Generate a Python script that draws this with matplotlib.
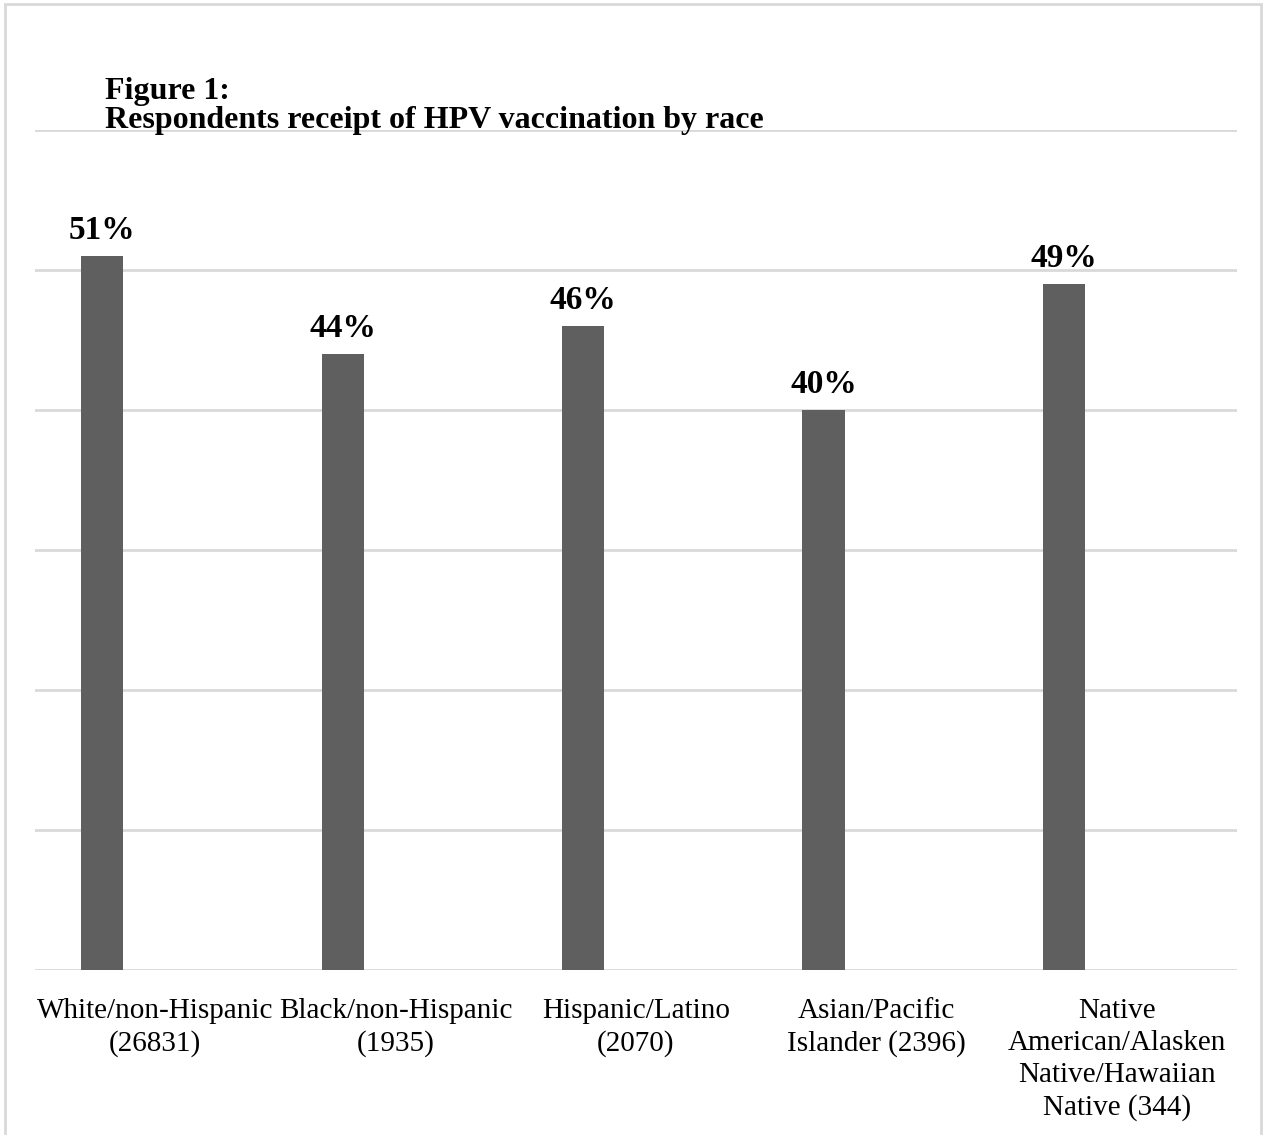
import numpy as np
import matplotlib
matplotlib.use("Agg")
import matplotlib.pyplot as plt
from matplotlib.patches import Rectangle

plt.rcParams["font.family"] = ["Liberation Serif", "DejaVu Serif"]

# ── Data ──────────────────────────────────────────────────────────────────────
categories = [
    "White/non-Hispanic\n(26831)",
    "Black/non-Hispanic\n(1935)",
    "Hispanic/Latino\n(2070)",
    "Asian/Pacific\nIslander (2396)",
    "Native\nAmerican/Alasken\nNative/Hawaiian\nNative (344)",
]
values = [51, 44, 46, 40, 49]
value_labels = ["51%", "44%", "46%", "40%", "49%"]

W, H = 1265, 1135
fig = plt.figure(figsize=(W / 100, H / 100), dpi=100)

# outer chart frame (light grey, bottom runs off the page)
fig.patches.append(Rectangle((5 / W, -0.05), 1256 / W, 1.05 - 4 / H,
                             transform=fig.transFigure, fill=False,
                             edgecolor="#d9d9d9", linewidth=2))

ax = fig.add_axes([35 / W, (H - 970) / H, 1202 / W, 840 / H])

x = np.arange(len(categories))
bars = ax.bar(x - 0.22, values, width=0.175, color="#5f5f5f", zorder=3)

for b, lab in zip(bars, value_labels):
    ax.annotate(lab, xy=(b.get_x() + b.get_width() / 2, b.get_height()),
                xytext=(0, 7), textcoords="offset points",
                ha="center", va="bottom", fontsize=24, fontweight="bold")

ax.set_xlim(-0.5, len(categories) - 0.5)
ax.set_ylim(0, 60)
ax.set_yticks(np.arange(0, 61, 10))
ax.set_yticklabels([])
ax.tick_params(axis="y", length=0)
ax.grid(axis="y", color="#d9d9d9", linewidth=2, zorder=0)

ax.set_xticks(x)
ax.set_xticklabels(categories, fontsize=21, linespacing=1.3)
ax.tick_params(axis="x", length=0, pad=20)

for s in ["top", "right", "left", "bottom"]:
    ax.spines[s].set_visible(False)

fig.text(105 / W, 1 - 106 / H, "Figure 1:\nRespondents receipt of HPV vaccination by race",
         ha="left", va="center", fontsize=23, fontweight="bold", linespacing=1.0)

plt.savefig("out.png", dpi=100)
plt.close()
